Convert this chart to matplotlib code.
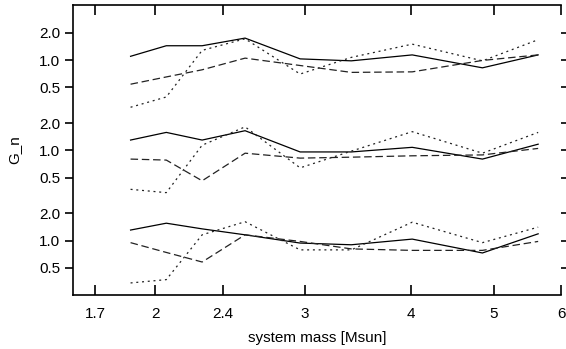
import matplotlib
matplotlib.use("Agg")
import matplotlib.pyplot as plt
import numpy as np

plt.rcParams['font.family'] = ['Liberation Sans', 'DejaVu Sans']

# system masses [Msun] shared by all curves
mass = [1.87, 2.06, 2.27, 2.55, 2.96, 3.40, 4.01, 4.85, 5.64]

# G_n per panel (top, middle, bottom), three curves each
top_solid = [1.10, 1.44, 1.44, 1.75, 1.03, 0.98, 1.14, 0.82, 1.14]
top_dashed = [0.54, 0.65, 0.78, 1.05, 0.87, 0.73, 0.74, 0.99, 1.14]
top_dotted = [0.30, 0.39, 1.28, 1.72, 0.70, 1.07, 1.50, 0.98, 1.68]

mid_solid = [1.30, 1.58, 1.30, 1.65, 0.96, 0.96, 1.08, 0.80, 1.17]
mid_dashed = [0.80, 0.78, 0.46, 0.93, 0.82, 0.84, 0.87, 0.89, 1.05]
mid_dotted = [0.37, 0.34, 1.14, 1.82, 0.64, 0.98, 1.61, 0.93, 1.58]

bot_solid = [1.31, 1.56, 1.35, 1.16, 0.94, 0.90, 1.04, 0.73, 1.19]
bot_dashed = [0.95, 0.74, 0.58, 1.16, 0.98, 0.81, 0.78, 0.78, 0.98]
bot_dotted = [0.34, 0.37, 1.16, 1.62, 0.79, 0.79, 1.60, 0.95, 1.41]

xticks = [1.7, 2, 2.4, 3, 4, 5, 6]
yticks = [0.5, 1.0, 2.0]

panels = [
    (100.0, top_solid, top_dashed, top_dotted),
    (10.0, mid_solid, mid_dashed, mid_dotted),
    (1.0, bot_solid, bot_dashed, bot_dotted),
]

fig = plt.figure(figsize=(5.66, 3.49), dpi=100)
ax = fig.add_axes([73 / 566, 54 / 349, 488 / 566, 290 / 349])

# each panel is shifted up by one decade on a shared log axis
for offset, s, d, o in panels:
    ax.plot(mass, np.array(s) * offset, color='black', lw=0.9, ls='-')
    ax.plot(mass, np.array(d) * offset, color='#222222', lw=0.9, ls=(0, (6, 3)))
    ax.plot(mass, np.array(o) * offset, color='#222222', lw=0.9, ls=(0, (1.6, 3)))

ax.set_xscale('log')
ax.set_yscale('log')
ax.set_xlim(1.6, 6.0)
ax.set_ylim(0.25, 407)

ax.set_xticks(xticks)
ax.set_xticklabels([str(t) for t in xticks])
ax.xaxis.set_minor_locator(matplotlib.ticker.NullLocator())

ypos = [v * off for off in (1.0, 10.0, 100.0) for v in yticks]
ax.set_yticks(ypos)
ax.set_yticklabels(['%.1f' % v for off in (1.0, 10.0, 100.0) for v in yticks])
ax.yaxis.set_minor_locator(matplotlib.ticker.NullLocator())

ax.tick_params(axis='x', which='major', direction='in', top=True, length=7,
               width=1.2, labelsize=11, pad=9)
ax.tick_params(axis='y', which='major', direction='out', right=True, length=6,
               width=1.2, labelsize=11, pad=3)

for side in ['left', 'bottom', 'top']:
    ax.spines[side].set_linewidth(1.2)
ax.spines['right'].set_visible(False)

ax.set_xlabel('system mass [Msun]', fontsize=11, labelpad=7)
ax.set_ylabel('G_n', fontsize=11, labelpad=13)

fig.savefig('out.png', dpi=100)
